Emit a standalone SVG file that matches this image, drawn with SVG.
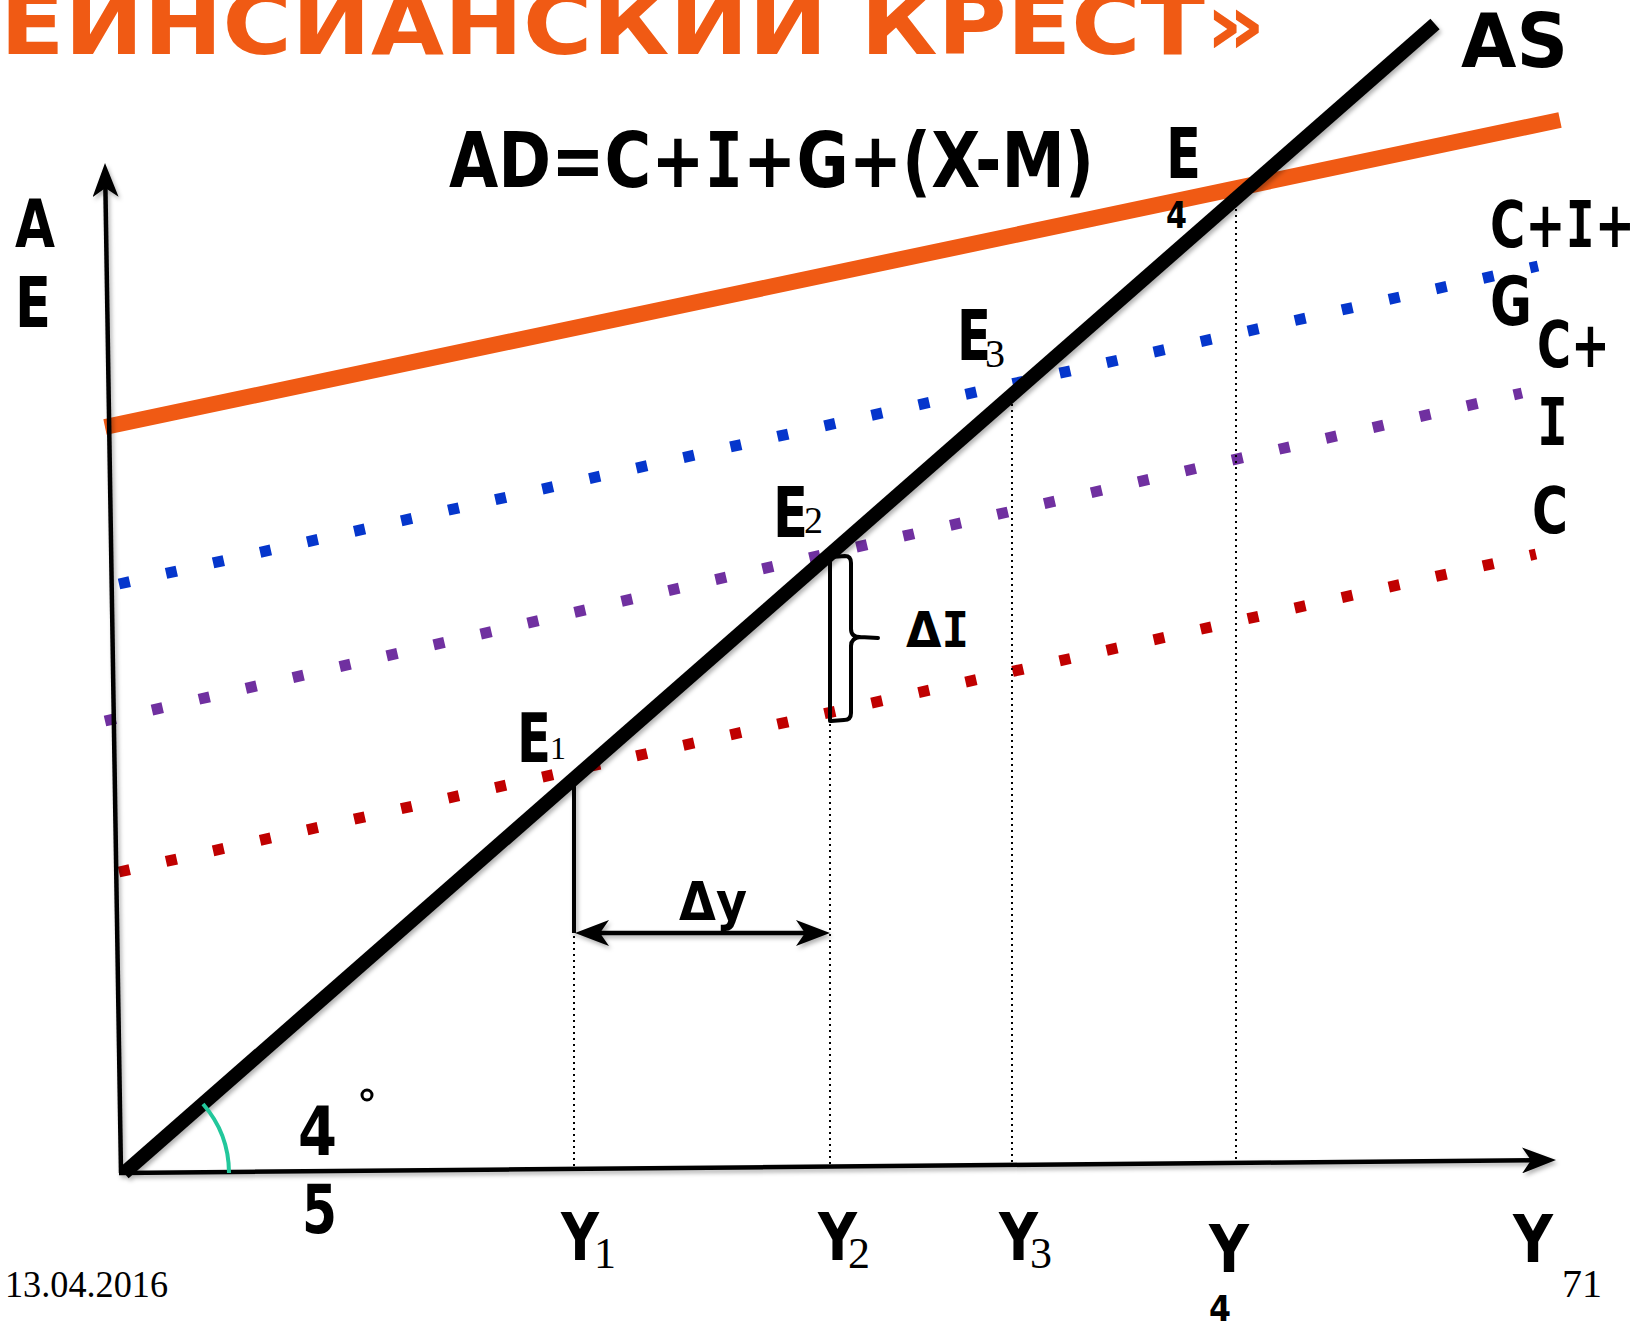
<svg xmlns="http://www.w3.org/2000/svg" width="1642" height="1323" viewBox="0 0 1642 1323">
<style>
.c{font-family:"DejaVu Sans","Liberation Sans",sans-serif;font-weight:bold;fill:#000}
.m{font-family:"DejaVu Sans Mono","Liberation Mono",monospace;font-weight:bold}
.t{font-family:"Liberation Serif","Times New Roman",serif;fill:#000}
.ax{stroke:#000;stroke-width:4.5;fill:none}
.dot{fill:none;stroke-width:11;stroke-linecap:butt;stroke-dasharray:11 37.2}
.vd{stroke:#000;stroke-width:2;stroke-dasharray:2 4;fill:none}
</style>
<defs>
<filter id="sh" x="-10%" y="-10%" width="120%" height="120%">
<feDropShadow dx="2" dy="3" stdDeviation="2" flood-color="#000" flood-opacity="0.3"/>
</filter>
<marker id="ah" markerUnits="userSpaceOnUse" markerWidth="34" markerHeight="26" viewBox="0 0 34 26" refX="9" refY="13" orient="auto-start-reverse">
<path d="M0,0 L34,13 L0,26 L9,13 Z" fill="#000"/>
</marker>
</defs>
<rect width="1642" height="1323" fill="#fff"/>

<g id="title">
<text x="0" y="54" font-size="86" textLength="1266" lengthAdjust="spacingAndGlyphs" style="font-family:'DejaVu Sans','Liberation Sans',sans-serif;font-weight:bold;fill:#F05A14">ЕЙНСИАНСКИЙ КРЕСТ»</text>
</g>

<g id="connectors">
<line id="ad-line" x1="105" y1="427" x2="1560" y2="120" stroke="#F05A14" stroke-width="16"/>
<line id="cig-line" class="dot" x1="119" y1="584" x2="1538" y2="266" stroke="#0536CC"/>
<line id="ci-line" class="dot" x1="105" y1="721" x2="1522" y2="393" stroke="#7030A0"/>
<line id="c-line" class="dot" x1="119" y1="872" x2="1536" y2="554" stroke="#C00000"/>
<g filter="url(#sh)">
<line id="y-axis" class="ax" x1="121" y1="1173" x2="105.4" y2="188" marker-end="url(#ah)"/>
<line id="x-axis" class="ax" x1="119" y1="1173" x2="1531" y2="1160.3" marker-end="url(#ah)"/>
<line id="as-line" x1="124" y1="1173" x2="1435" y2="24" stroke="#000" stroke-width="14"/>
<line id="dy-arrow" class="ax" x1="600" y1="933" x2="805" y2="933" marker-start="url(#ah)" marker-end="url(#ah)"/>
<line id="y1-solid" x1="574" y1="780" x2="574" y2="933" stroke="#000" stroke-width="4"/>
</g>
<line class="vd" x1="574" y1="936" x2="574" y2="1170"/>
<line class="vd" x1="830" y1="724" x2="830" y2="1168"/>
<line class="vd" x1="1012" y1="392" x2="1012" y2="1167"/>
<line class="vd" x1="1236" y1="197" x2="1236" y2="1164"/>
<path id="di-bracket" d="M830,557 L830,721 M831,557 L845,556 Q851,556 851,563 L851,629 Q851,637 860,637 L878,638 M860,637 Q851,638 851,646 L851,713 Q851,720 844,720 L831,721" fill="none" stroke="#000" stroke-width="4" stroke-linejoin="round" stroke-linecap="round"/>
<path id="angle-arc" d="M203,1104 A105,105 0 0 1 229,1173" fill="none" stroke="#22C79B" stroke-width="4"/>
</g>

<g id="axis-labels">
<text class="c" x="15" y="247" font-size="66" textLength="40" lengthAdjust="spacingAndGlyphs">A</text>
<text class="c" x="15" y="327" font-size="70" textLength="36" lengthAdjust="spacingAndGlyphs">E</text>
<g id="label-y"><text class="c" x="1513" y="1262" font-size="66" textLength="40" lengthAdjust="spacingAndGlyphs">Y</text></g>
</g>

<g id="label-ad"><text class="c" x="449" y="187" font-size="76" textLength="645" lengthAdjust="spacingAndGlyphs">AD=C+<tspan class="m">I</tspan>+G+(X-M)</text></g>
<g id="label-as"><text class="c" x="1461" y="67" font-size="74" textLength="107" lengthAdjust="spacingAndGlyphs">AS</text></g>

<g id="label-cig">
<text class="c" x="1490" y="247" font-size="64" textLength="145" lengthAdjust="spacingAndGlyphs">C+<tspan class="m">I</tspan>+</text>
<text class="c" x="1490" y="325" font-size="68" textLength="42" lengthAdjust="spacingAndGlyphs">G</text>
</g>
<g id="label-ci">
<text class="c" x="1537" y="367" font-size="64" textLength="73" lengthAdjust="spacingAndGlyphs">C+</text>
<text class="c m" x="1537" y="445" font-size="66" textLength="31" lengthAdjust="spacingAndGlyphs">I</text>
</g>
<g id="label-c"><text class="c" x="1532" y="533" font-size="64" textLength="36" lengthAdjust="spacingAndGlyphs">C</text></g>

<g id="e1"><text class="c" x="517" y="762" font-size="68" textLength="34" lengthAdjust="spacingAndGlyphs">E</text><text class="t" x="550" y="759" font-size="32">1</text></g>
<g id="e2"><text class="c" x="773" y="537" font-size="70" textLength="35" lengthAdjust="spacingAndGlyphs">E</text><text class="t" x="804" y="533" font-size="38">2</text></g>
<g id="e3"><text class="c" x="957" y="360" font-size="70" textLength="34" lengthAdjust="spacingAndGlyphs">E</text><text class="t" x="985" y="367" font-size="40">3</text></g>
<g id="e4"><text class="c" x="1166" y="178" font-size="70" textLength="35" lengthAdjust="spacingAndGlyphs">E</text><text class="c" x="1166" y="228" font-size="38" textLength="21" lengthAdjust="spacingAndGlyphs">4</text></g>

<g id="label-dy"><text class="c" x="679" y="920" font-size="54" textLength="68" lengthAdjust="spacingAndGlyphs">Δy</text></g>
<g id="label-di"><text class="c" x="906" y="647" font-size="50" textLength="63" lengthAdjust="spacingAndGlyphs">Δ<tspan class="m">I</tspan></text></g>

<g id="label-angle">
<text class="c" x="298" y="1155" font-size="68" textLength="39" lengthAdjust="spacingAndGlyphs">4</text>
<circle cx="367" cy="1095" r="5" fill="none" stroke="#000" stroke-width="3"/>
<text class="c" x="302" y="1233" font-size="68" textLength="35" lengthAdjust="spacingAndGlyphs">5</text>
</g>

<g id="y1"><text class="c" x="561" y="1260" font-size="66" textLength="38" lengthAdjust="spacingAndGlyphs">Y</text><text class="t" x="594" y="1268" font-size="44">1</text></g>
<g id="y2"><text class="c" x="818" y="1260" font-size="66" textLength="39" lengthAdjust="spacingAndGlyphs">Y</text><text class="t" x="848" y="1268" font-size="44">2</text></g>
<g id="y3"><text class="c" x="999" y="1260" font-size="66" textLength="39" lengthAdjust="spacingAndGlyphs">Y</text><text class="t" x="1030" y="1268" font-size="44">3</text></g>
<g id="y4"><text class="c" x="1209" y="1272" font-size="66" textLength="40" lengthAdjust="spacingAndGlyphs">Y</text><text class="c" x="1209" y="1321" font-size="36" textLength="22" lengthAdjust="spacingAndGlyphs">4</text></g>

<g id="footer">
<text class="t" x="5" y="1297" font-size="38" textLength="163" lengthAdjust="spacingAndGlyphs">13.04.2016</text>
<text class="t" x="1562" y="1297" font-size="40">71</text>
</g>
</svg>
